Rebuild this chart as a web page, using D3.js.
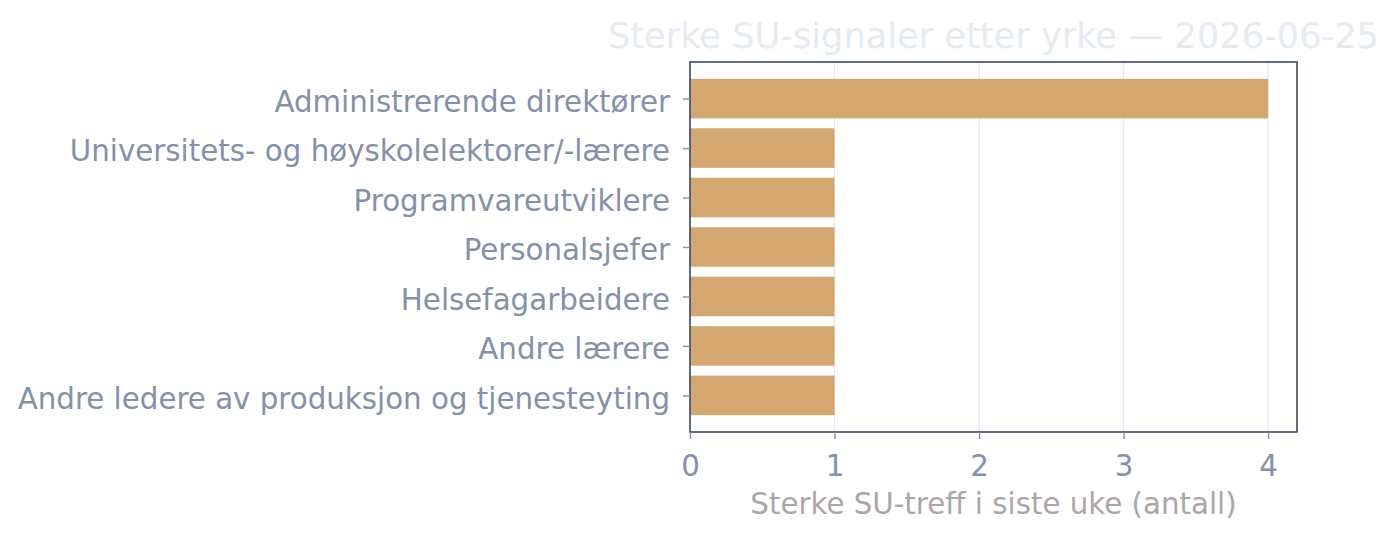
<!DOCTYPE html>
<html>
<head>
<meta charset="utf-8">
<script src="https://cdn.jsdelivr.net/npm/d3@7"></script>
<style>
  body { margin: 0; background: #fff; }
  text { font-family: "DejaVu Sans", sans-serif; }
</style>
</head>
<body>
<svg id="chart" width="1398" height="540"></svg>
<script>
// data
const occupations = [
    "Administrerende direktører",
    "Universitets- og høyskolelektorer/-lærere",
    "Programvareutviklere",
    "Personalsjefer",
    "Helsefagarbeidere",
    "Andre lærere",
    "Andre ledere av produksjon og tjenesteyting"
];
const hits = [4, 1, 1, 1, 1, 1, 1];
const xTicks = [0, 1, 2, 3, 4];
const title = "Sterke SU-signaler etter yrke — 2026-06-25";
const xLabel = "Sterke SU-treff i siste uke (antall)";

function main(){
    var svg = d3.select("#chart");
    var left = 690, right = 1297, top = 62, bottom = 432;

    var xScale = d3.scaleLinear().domain([0, 4.2]).range([left, right]);
    // bar index positions with 5% margins, like matplotlib
    var yScale = d3.scaleLinear().domain([-0.74, occupations.length - 1 + 0.74]).range([top, bottom]);
    var barH = 0.8 * (yScale(1) - yScale(0));

    // grid
    svg.append("g").selectAll("line")
        .data(xTicks)
        .enter().append("line")
        .attr("x1", d => xScale(d)).attr("x2", d => xScale(d))
        .attr("y1", top).attr("y2", bottom)
        .attr("stroke", "#e3e7ee").attr("stroke-width", 1.2);

    // bars
    svg.append("g").selectAll("rect")
        .data(hits)
        .enter().append("rect")
        .attr("x", xScale(0))
        .attr("y", (d, i) => yScale(i) - barH / 2)
        .attr("width", d => xScale(d) - xScale(0))
        .attr("height", barH)
        .attr("fill", "#d4a771");

    // frame
    svg.append("rect")
        .attr("x", left).attr("y", top)
        .attr("width", right - left).attr("height", bottom - top)
        .attr("fill", "none").attr("stroke", "#3b4966").attr("stroke-width", 1.6);

    // x axis
    var xAxis = svg.append("g")
        .attr("transform", "translate(0," + bottom + ")")
        .call(d3.axisBottom(xScale).tickValues(xTicks).tickFormat(d3.format("d")).tickSize(7).tickPadding(16));
    xAxis.select(".domain").remove();
    xAxis.selectAll("line").attr("stroke", "#8391aa").attr("stroke-width", 1.4);
    xAxis.selectAll("text").attr("fill", "#8391aa").style("font-size", "29.3px").style("font-family", "DejaVu Sans");

    // y axis
    var yAxis = svg.append("g")
        .attr("transform", "translate(" + left + ",0)")
        .call(d3.axisLeft(yScale).tickValues(d3.range(occupations.length))
            .tickFormat(i => occupations[i]).tickSize(7).tickPadding(13));
    yAxis.select(".domain").remove();
    yAxis.selectAll("line").attr("stroke", "#8391aa").attr("stroke-width", 1.4);
    yAxis.selectAll("text").attr("fill", "#8391aa").attr("dy", "0.44em")
        .style("font-size", "29.3px").style("font-family", "DejaVu Sans");

    // title
    svg.append("text")
        .attr("x", (left + right) / 2)
        .attr("y", 48)
        .attr("text-anchor", "middle")
        .attr("fill", "#e6eaf1")
        .style("font-size", "35.2px")
        .text(title);

    // x label
    svg.append("text")
        .attr("x", (left + right) / 2)
        .attr("y", 514)
        .attr("text-anchor", "middle")
        .attr("fill", "#aca6a6")
        .style("font-size", "29.3px")
        .text(xLabel);
}
main();
</script>
</body>
</html>
